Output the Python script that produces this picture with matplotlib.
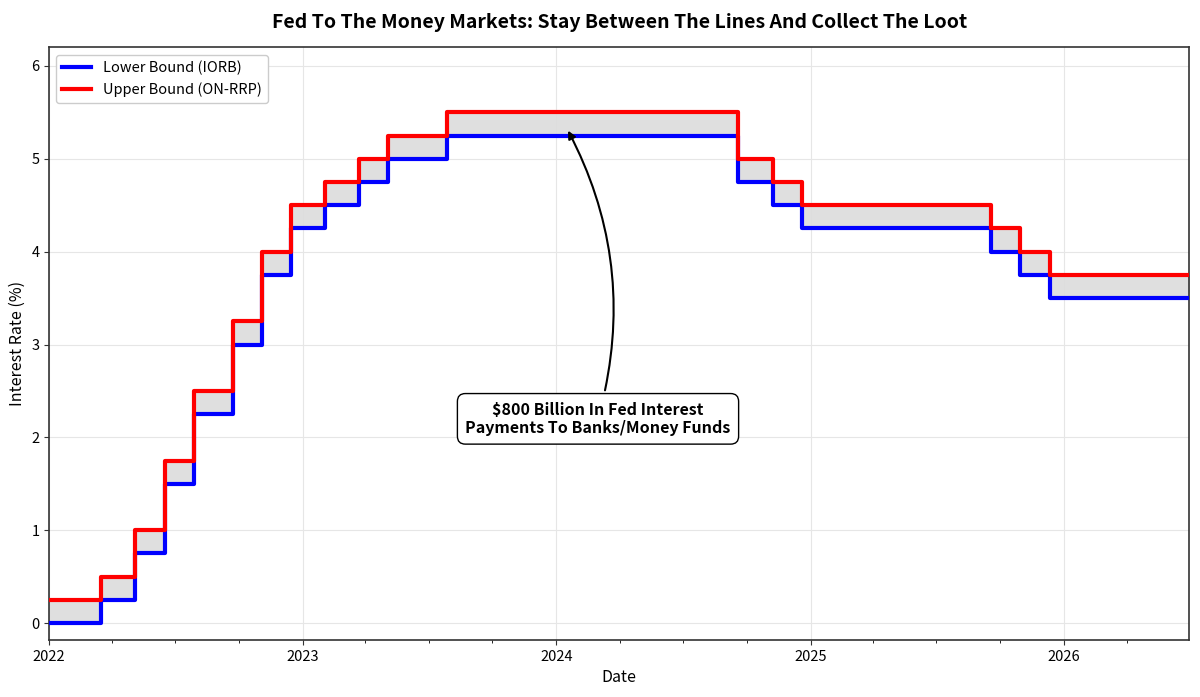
import numpy as np
import pandas as pd
import matplotlib
matplotlib.use('Agg')
import matplotlib.pyplot as plt
import matplotlib.dates as mdates

plt.rcParams['font.family'] = ['Noto Sans CJK JP', 'DejaVu Sans']

# FOMC decision dates and target range
change_dates = ['2022-01-01', '2022-03-17', '2022-05-05', '2022-06-16', '2022-07-28',
                '2022-09-22', '2022-11-03', '2022-12-15', '2023-02-02', '2023-03-23',
                '2023-05-04', '2023-07-27', '2024-09-19', '2024-11-08', '2024-12-19',
                '2025-09-18', '2025-10-30', '2025-12-11', '2026-06-30']
lower = [0.00, 0.25, 0.75, 1.50, 2.25, 3.00, 3.75, 4.25, 4.50, 4.75,
         5.00, 5.25, 4.75, 4.50, 4.25, 4.00, 3.75, 3.50, 3.50]
upper = [0.25, 0.50, 1.00, 1.75, 2.50, 3.25, 4.00, 4.50, 4.75, 5.00,
         5.25, 5.50, 5.00, 4.75, 4.50, 4.25, 4.00, 3.75, 3.75]

dates = pd.to_datetime(change_dates)

fig, ax = plt.subplots(figsize=(12, 6.97), dpi=100)

ax.fill_between(dates, lower, upper, step='post', color='#dcdcdc', alpha=0.9, zorder=1)
ax.step(dates, lower, where='post', color='blue', lw=3, label='Lower Bound (IORB)', zorder=3)
ax.step(dates, upper, where='post', color='red', lw=3, label='Upper Bound (ON-RRP)', zorder=3)

ax.annotate('$800 Billion In Fed Interest\nPayments To Banks/Money Funds',
            xy=(pd.Timestamp('2024-01-16'), 5.33),
            xytext=(pd.Timestamp('2024-03-01'), 2.2),
            ha='center', va='center', fontsize=11.5, fontweight='bold',
            bbox=dict(boxstyle='round,pad=0.5', fc='white', ec='black', lw=1),
            arrowprops=dict(arrowstyle='-|>', color='black', lw=1.5,
                            connectionstyle='arc3,rad=0.2'),
            zorder=5)

ax.set_xlim(pd.Timestamp('2022-01-01'), pd.Timestamp('2026-06-30'))
ax.set_ylim(-0.18, 6.2)
ax.xaxis.set_major_locator(mdates.YearLocator())
ax.xaxis.set_major_formatter(mdates.DateFormatter('%Y'))
ax.xaxis.set_minor_locator(mdates.MonthLocator(bymonth=[4, 7, 10]))
ax.grid(True, color='#e6e6e6', lw=0.8)
ax.set_axisbelow(True)
ax.tick_params(labelsize=10.5, color='#333333')

ax.set_xlabel('Date', fontsize=11.5)
ax.set_ylabel('Interest Rate (%)', fontsize=11.5)
ax.set_title('Fed To The Money Markets: Stay Between The Lines And Collect The Loot',
             fontsize=14, fontweight='bold', pad=14)
ax.legend(loc='upper left', fontsize=10.5, framealpha=1)

for s in ax.spines.values():
    s.set_color('#333333')
    s.set_linewidth(1.2)

fig.subplots_adjust(left=0.041, right=0.991, top=0.932, bottom=0.082)
fig.savefig('out.png', dpi=100)
